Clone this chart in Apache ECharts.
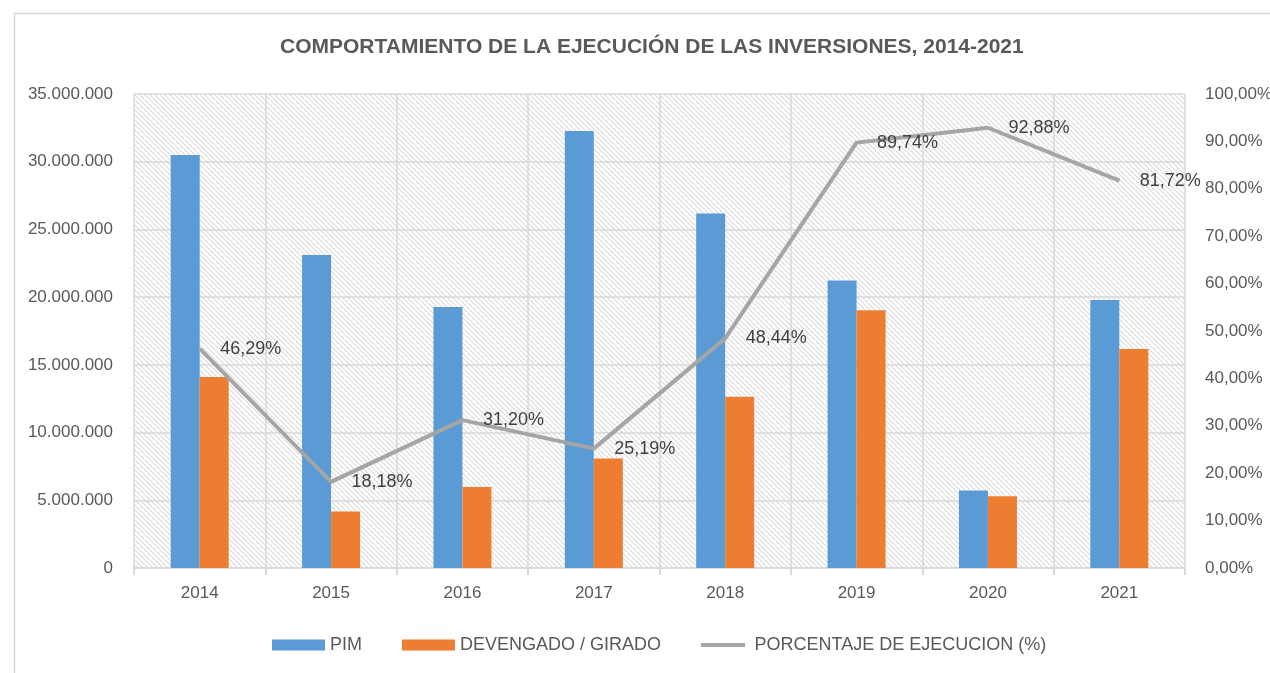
<!DOCTYPE html>
<html>
<head>
<meta charset="utf-8">
<script src="https://cdn.jsdelivr.net/npm/echarts@6/dist/echarts.min.js"></script>
<style>
html,body{margin:0;padding:0;background:#fff;}
#chart{width:1270px;height:673px;}
</style>
</head>
<body>
<div id="chart"></div>
<script>
// ---- data ----
const categories = ['2014','2015','2016','2017','2018','2019','2020','2021'];
const pim        = [30500000, 23120000, 19270000, 32270000, 26170000, 21230000, 5720000, 19780000];
const devengado  = [14100000, 4170000, 5990000, 8080000, 12650000, 19040000, 5300000, 16170000];
const porcentaje = [46.29, 18.18, 31.20, 25.19, 48.44, 89.74, 92.88, 81.72];
const seriesNames = ['PIM', 'DEVENGADO / GIRADO', 'PORCENTAJE DE EJECUCION (%)'];
const titleText = 'COMPORTAMIENTO DE LA EJECUCIÓN DE LAS INVERSIONES, 2014-2021';

// ---- font detection ----
function hasFont(name){
  const c = document.createElement('canvas').getContext('2d');
  const t = 'PORCENTAJE DE EJECUCION 0123456789';
  c.font = '40px monospace'; const a = c.measureText(t).width;
  c.font = '40px "' + name + '", monospace'; const b = c.measureText(t).width;
  return Math.abs(a - b) > 0.5;
}
const narrow = hasFont('Liberation Sans Narrow');
const FONT = narrow ? '"Liberation Sans Narrow", "Arial Narrow", sans-serif' : '"Liberation Sans", Arial, sans-serif';
const S = narrow ? {axis:20, label:21, legend:21, title:25} : {axis:17, label:18, legend:18, title:21};

// ---- hatch pattern for plot background ----
const tile = document.createElement('canvas');
const TS = 5;
tile.width = TS; tile.height = TS;
const tc = tile.getContext('2d');
tc.fillStyle = '#ffffff'; tc.fillRect(0,0,TS,TS);
tc.strokeStyle = '#d9d9d9'; tc.lineWidth = 1.1;
for (let k=-1;k<=1;k++){ tc.beginPath(); tc.moveTo(k*TS,0); tc.lineTo(k*TS+TS,TS); tc.stroke(); }

const textColor = '#595959';
const gridColor = '#d9d9d9';

function fmtThousands(v){ return String(Math.round(v)).replace(/\B(?=(\d{3})+(?!\d))/g,'.'); }
function fmtPct(v){ return Number(v).toFixed(2).replace('.',',') + '%'; }

const chart = echarts.init(document.getElementById('chart'), null, {renderer:'canvas'});
chart.setOption({
  animation:false,
  backgroundColor:'#ffffff',
  textStyle:{fontFamily:FONT},
  graphic:[{
    type:'rect', left:12, top:11, z:-10, silent:true,
    shape:{width:1400, height:800},
    style:{fill:'none', stroke:'#d9d9d9', lineWidth:1.5}
  }],
  title:{
    text:titleText, left:280, top:37, padding:0,
    textStyle:{fontFamily:FONT, fontSize:S.title, fontWeight:'bold', color:textColor}
  },
  legend:{
    left:272, top:636, padding:0, itemGap:40, itemWidth:53, itemHeight:11,
    textStyle:{fontFamily:FONT, fontSize:S.legend, color:textColor},
    data:[
      {name:seriesNames[0], icon:'rect'},
      {name:seriesNames[1], icon:'rect'},
      {name:seriesNames[2], icon:'path://M0,0M0,4h52v5h-52zM0,13'}
    ]
  },
  grid:{
    left:134, right:85, top:94, bottom:105, show:true, outerBoundsMode:'none',
    containLabel:false,
    backgroundColor:{image:tile, repeat:'repeat'}, borderWidth:0
  },
  xAxis:{
    type:'category', data:categories, boundaryGap:true,
    axisLine:{show:true, lineStyle:{color:gridColor, width:2}},
    axisTick:{show:true, length:7, lineStyle:{color:gridColor, width:2}},
    axisLabel:{color:textColor, fontSize:S.axis, fontFamily:FONT, margin:17},
    splitLine:{show:true, lineStyle:{color:gridColor, width:1.5}}
  },
  yAxis:[{
    type:'value', min:0, max:35000000, interval:5000000,
    axisLine:{show:false}, axisTick:{show:false},
    axisLabel:{color:textColor, fontSize:S.axis, fontFamily:FONT, margin:21, formatter:fmtThousands},
    splitLine:{show:true, lineStyle:{color:gridColor, width:1.5}}
  },{
    type:'value', min:0, max:100, interval:10,
    axisLine:{show:false}, axisTick:{show:false},
    axisLabel:{color:textColor, fontSize:S.axis, fontFamily:FONT, margin:20, formatter:fmtPct},
    splitLine:{show:false}
  }],
  series:[{
    name:seriesNames[0], type:'bar', data:pim, barWidth:29, barGap:'0%',
    itemStyle:{color:'#5B9BD5'}
  },{
    name:seriesNames[1], type:'bar', data:devengado, barWidth:29, barGap:'0%',
    itemStyle:{color:'#ED7D31'}
  },{
    name:seriesNames[2], type:'line', yAxisIndex:1, data:porcentaje,
    symbol:'circle', symbolSize:1, showSymbol:true,
    itemStyle:{color:'#A5A5A5'},
    lineStyle:{color:'#A5A5A5', width:4},
    label:{show:true, position:'right', distance:20, color:'#404040',
      fontSize:S.label, fontFamily:FONT, formatter:p=>fmtPct(p.value)},
    z:5
  }]
});
</script>
</body>
</html>
